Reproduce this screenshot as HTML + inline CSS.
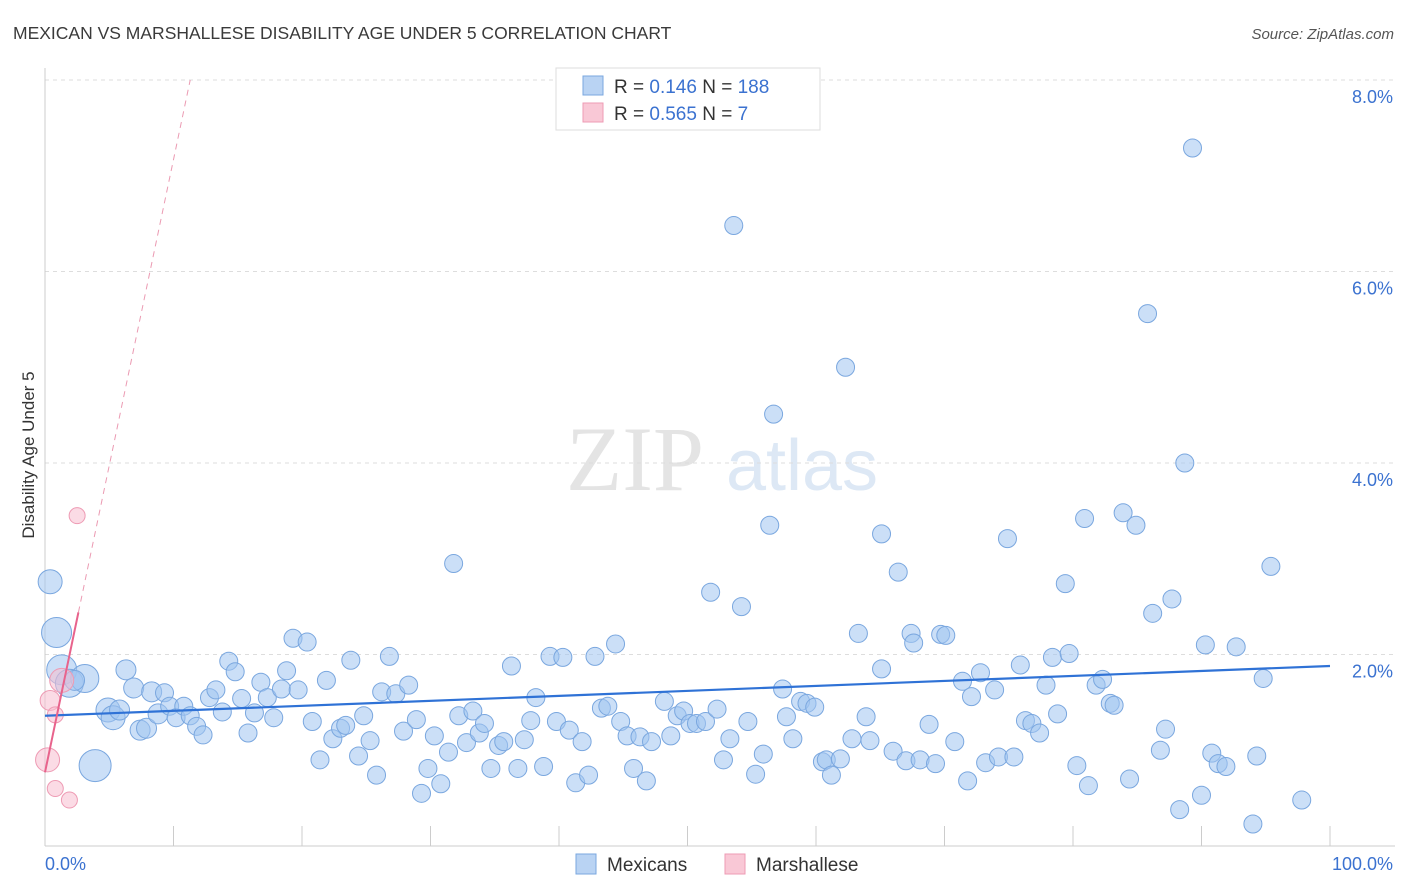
<!DOCTYPE html>
<html><head><meta charset="utf-8"><style>
body{margin:0;background:#fff;font-family:"Liberation Sans",sans-serif}
svg{display:block}
</style></head><body>
<svg width="1406" height="892" xmlns="http://www.w3.org/2000/svg">
<text x="13" y="39" font-size="17.5" fill="#3a3a3a">MEXICAN VS MARSHALLESE DISABILITY AGE UNDER 5 CORRELATION CHART</text>
<text x="1394" y="39" font-size="15" fill="#555" text-anchor="end" font-style="italic">Source: ZipAtlas.com</text>
<g>
<text x="635" y="490" font-size="92" fill="#e4e4e4" text-anchor="middle" font-family="Liberation Serif,serif">ZIP</text>
<text x="802" y="490" font-size="72" fill="#dde8f5" text-anchor="middle">atlas</text>
</g>
<g id="grid"></g>
<g id="axes"></g>
<g id="marks"></g>
<text transform="translate(34,455) rotate(-90)" font-size="17" fill="#333" text-anchor="middle">Disability Age Under 5</text>
<g>
<rect x="556" y="68" width="264" height="62" fill="#fff" stroke="#ddd"/>
<rect x="583" y="76" width="20" height="19" fill="#b9d3f3" stroke="#7aa7df"/>
<text x="614" y="93" font-size="19" fill="#333">R = <tspan fill="#3b72d0">0.146</tspan>   N = <tspan fill="#3b72d0">188</tspan></text>
<rect x="583" y="103" width="20" height="19" fill="#f9c8d6" stroke="#ee9bb4"/>
<text x="614" y="120" font-size="19" fill="#333">R = <tspan fill="#3b72d0">0.565</tspan>   N = <tspan fill="#3b72d0">   7</tspan></text>
</g>
<g>
<rect x="576" y="854" width="20" height="20" fill="#b9d3f3" stroke="#7aa7df"/>
<text x="607" y="871" font-size="19" fill="#333">Mexicans</text>
<rect x="725" y="854" width="20" height="20" fill="#f9c8d6" stroke="#ee9bb4"/>
<text x="756" y="871" font-size="19" fill="#333">Marshallese</text>
</g>
<script>
const yTicks=[2,4,6,8];
const yTickLabels=["2.0%","4.0%","6.0%","8.0%"];
const xTicks=[0,10,20,30,40,50,60,70,80,90,100];
const blueX=[0.4,0.9,1.3,1.9,3.1,3.9,2.3,4.9,5.3,5.8,6.3,6.9,7.4,7.9,8.3,8.8,9.3,9.7,10.2,10.8,11.3,11.8,12.3,12.8,13.3,13.8,14.3,14.8,15.3,15.8,16.3,16.8,17.3,17.8,18.4,18.8,19.3,19.7,20.4,20.8,21.4,21.9,22.4,23.0,23.4,23.8,24.4,24.8,25.3,25.8,26.2,26.8,27.3,27.9,28.3,28.9,29.3,29.8,30.3,30.8,31.4,31.8,32.2,32.8,33.3,33.8,34.2,34.7,35.3,35.7,36.3,36.8,37.3,37.8,38.2,38.8,39.3,39.8,40.3,40.8,41.3,41.8,42.3,42.8,43.3,43.8,44.4,44.8,45.3,45.8,46.3,46.8,47.2,48.2,48.7,49.2,49.7,50.2,50.7,51.4,51.8,52.3,52.8,53.3,53.6,54.2,54.7,55.3,55.9,56.4,56.7,57.4,57.7,58.2,58.8,59.3,59.9,60.5,60.8,61.2,61.9,62.3,62.8,63.3,63.9,64.2,65.1,65.1,66.0,66.4,67.0,67.4,67.6,68.1,68.8,69.3,69.7,70.1,70.8,71.4,71.8,72.1,72.8,73.2,73.9,74.2,74.9,75.4,75.9,76.3,76.8,77.4,77.9,78.4,78.8,79.4,79.7,80.3,80.9,81.2,81.8,82.3,82.9,83.2,83.9,84.4,84.9,85.8,86.2,86.8,87.2,87.7,88.3,88.7,89.3,90.0,90.3,90.8,91.3,91.9,92.7,94.0,94.3,94.8,95.4,97.8];
const blueY=[2.76,2.23,1.84,1.70,1.75,0.84,1.73,1.42,1.34,1.42,1.84,1.65,1.21,1.23,1.61,1.38,1.60,1.46,1.34,1.46,1.36,1.25,1.16,1.55,1.63,1.40,1.93,1.82,1.54,1.18,1.39,1.71,1.55,1.34,1.64,1.83,2.17,1.63,2.13,1.30,0.90,1.73,1.12,1.23,1.26,1.94,0.94,1.36,1.10,0.74,1.61,1.98,1.59,1.20,1.68,1.32,0.55,0.81,1.15,0.65,0.98,2.95,1.36,1.08,1.41,1.18,1.28,0.81,1.05,1.09,1.88,0.81,1.11,1.31,1.55,0.83,1.98,1.30,1.97,1.21,0.66,1.09,0.74,1.98,1.44,1.46,2.11,1.30,1.15,0.81,1.14,0.68,1.09,1.51,1.15,1.36,1.41,1.28,1.28,1.30,2.65,1.43,0.90,1.12,6.48,2.50,1.30,0.75,0.96,3.35,4.51,1.64,1.35,1.12,1.51,1.49,1.45,0.88,0.90,0.74,0.91,5.00,1.12,2.22,1.35,1.10,1.85,3.26,0.99,2.86,0.89,2.22,2.12,0.90,1.27,0.86,2.21,2.20,1.09,1.72,0.68,1.56,1.81,0.87,1.63,0.93,3.21,0.93,1.89,1.31,1.28,1.18,1.68,1.97,1.38,2.74,2.01,0.84,3.42,0.63,1.68,1.74,1.49,1.47,3.48,0.70,3.35,5.56,2.43,1.00,1.22,2.58,0.38,4.00,7.29,0.53,2.10,0.97,0.86,0.83,2.08,0.23,0.94,1.75,2.92,0.48];
const blueR=[12,15,15,14,14,16,10,12,12,10,10,10,10,10,10,10];
const pinkX=[0.2,0.4,0.8,0.8,1.9,2.5,1.3];
const pinkY=[0.90,1.52,1.37,0.60,0.48,3.45,1.73];
const pinkR=[12,10,8,8,8,8,12];
const blueTrend=[[0,1.36],[100,1.88]];
const pinkSolid=[[0,0.77],[2.6,2.44]];
const pinkDashed=[[2.6,2.44],[11.3,8.0]];
const NS="http://www.w3.org/2000/svg";
const xs=v=>45+v*12.85, ys=v=>846-v*95.75;
function mk(p,t,a){const e=document.createElementNS(NS,t);for(const k in a)e.setAttribute(k,a[k]);p.appendChild(e);return e;}
const grid=document.getElementById('grid'),axes=document.getElementById('axes'),marks=document.getElementById('marks');
yTicks.forEach((t,i)=>{
 const l=mk(grid,'line',{x1:45,x2:1395,y1:ys(t),y2:ys(t),stroke:'#ddd','stroke-dasharray':'4,4'});
 
 
 const tx=mk(axes,'text',{x:1393,y:ys(t)+23,'font-size':18,fill:'#3b72d0','text-anchor':'end'});
 tx.textContent=yTickLabels[i];
 
 
});
const al=mk(axes,'line',{x1:45,x2:1395,y1:846,y2:846,stroke:'#ccc'});


const yl=mk(axes,'line',{x1:45,x2:45,y1:68,y2:846,stroke:'#ccc'});


xTicks.forEach(t=>{
 const l=mk(axes,'line',{x1:xs(t),x2:xs(t),y1:826,y2:846,stroke:'#ccc'});
 
 
});
[['0.0%',45,'start'],['100.0%',1393,'end']].forEach(([s,x,a])=>{
 const tx=mk(axes,'text',{x:x,y:870,'font-size':18,fill:'#3b72d0','text-anchor':a});
 tx.textContent=s;
 
 
});
blueX.forEach((x,i)=>{
 const c=mk(marks,'circle',{cx:xs(x),cy:ys(blueY[i]),r:blueR[i]||9,fill:'rgba(160,196,240,0.55)',stroke:'#7aa7df','stroke-width':1});
 
 
});
pinkX.forEach((x,i)=>{
 const c=mk(marks,'circle',{cx:xs(x),cy:ys(pinkY[i]),r:pinkR[i],fill:'rgba(248,190,208,0.55)',stroke:'#ee9bb4','stroke-width':1});
 
 
});
const bt=mk(marks,'line',{x1:xs(blueTrend[0][0]),y1:ys(blueTrend[0][1]),x2:xs(blueTrend[1][0]),y2:ys(blueTrend[1][1]),stroke:'#2f72d6','stroke-width':2.2});


const ps=mk(marks,'line',{x1:xs(pinkSolid[0][0]),y1:ys(pinkSolid[0][1]),x2:xs(pinkSolid[1][0]),y2:ys(pinkSolid[1][1]),stroke:'#e8638c','stroke-width':2});


const pd=mk(marks,'line',{x1:xs(pinkDashed[0][0]),y1:ys(pinkDashed[0][1]),x2:xs(pinkDashed[1][0]),y2:ys(pinkDashed[1][1]),stroke:'#eb9ab2','stroke-width':1,'stroke-dasharray':'6,5'});


</script>
</svg>
</body></html>
